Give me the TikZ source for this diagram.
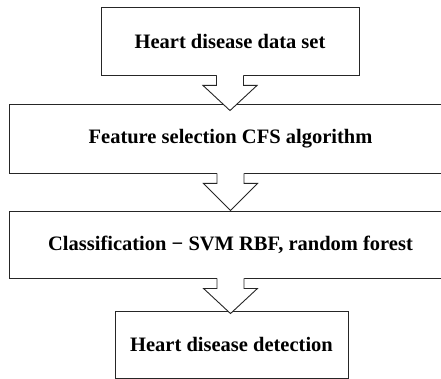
\documentclass[tikz,border=0pt]{standalone}
\usepackage{fontspec}
\setmainfont{Liberation Serif}
\usetikzlibrary{calc,shadows}

\tikzset{
  stage/.style={draw=black!85, line width=0.9pt, fill=white,
    font=\bfseries\fontsize{20.5}{24}\selectfont, inner sep=0pt,
    drop shadow={shadow xshift=0.8pt, shadow yshift=-1.4pt, opacity=0.3, fill=black!70}},
  flowarrow/.style={draw=black!85, line width=0.9pt, line join=miter}
}

% hollow block arrow from the bottom of #1 down into the top of #2 (#3 = overshoot);
% the white fill also blanks the box edge across the open end of the shaft
\newcommand{\hollowarrow}[3]{%
  \fill[white] let \p1=(#1.south), \p2=(#2.north) in
    (\x1-13.5pt,\y1+1.5pt) -- (\x1-13.5pt,\y1-10pt) -- (\x1-27pt,\y1-10pt)
    -- (\x1,\y2-#3) -- (\x1+27pt,\y1-10pt) -- (\x1+13.5pt,\y1-10pt)
    -- (\x1+13.5pt,\y1+1.5pt) -- cycle;
  \draw[flowarrow] let \p1=(#1.south), \p2=(#2.north) in
    (\x1-13.5pt,\y1) -- (\x1-13.5pt,\y1-10pt) -- (\x1-27pt,\y1-10pt)
    -- (\x1,\y2-#3) -- (\x1+27pt,\y1-10pt) -- (\x1+13.5pt,\y1-10pt)
    -- (\x1+13.5pt,\y1);
}

\begin{document}
\begin{tikzpicture}[x=1pt,y=1pt]
  \useasboundingbox (0,0) rectangle (441,-379);
  \fill[white] (0,0) rectangle (441,-379);

  \begin{scope}
    \clip (0,0) rectangle (441,-379);
    \node[stage, minimum width=258, minimum height=68] (data) at (230,-41)
      {Heart disease data set};
    \node[stage, minimum width=442, minimum height=69] (feat) at (230.5,-138.5)
      {Feature selection CFS algorithm};
    \node[stage, minimum width=442, minimum height=67] (clf) at (230.5,-244.5)
      {Classification − SVM RBF, random forest};
    \node[stage, minimum width=233, minimum height=67] (det) at (231.5,-344.5)
      {Heart disease detection};

    \hollowarrow{data}{feat}{7pt}
    \hollowarrow{feat}{clf}{0pt}
    \hollowarrow{clf}{det}{3pt}
  \end{scope}
\end{tikzpicture}
\end{document}
